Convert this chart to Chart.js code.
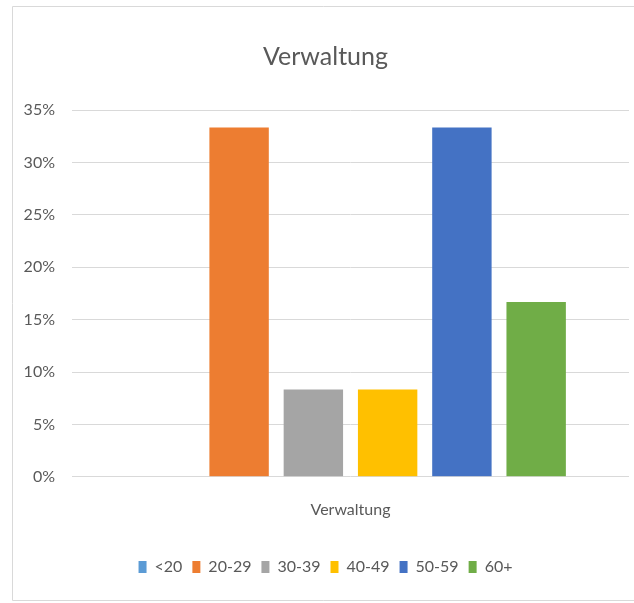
<!DOCTYPE html>
<html>
<head>
<meta charset="utf-8">
<title>Verwaltung</title>
<script src="https://cdn.jsdelivr.net/npm/chart.js@4/dist/chart.umd.min.js"></script>
<style>
  html, body { margin: 0; padding: 0; background: #fff; overflow: hidden; }
  #ageChart { position: absolute; left: 0; top: 0; }
</style>
</head>
<body>
<canvas id="ageChart" width="634" height="603"></canvas>
<script>
// Altersgruppen in der Verwaltung (Anteile in %)
const categories = ['Verwaltung'];
const groups = ['<20', '20-29', '30-39', '40-49', '50-59', '60+'];
const shares = [0, 33.33, 8.33, 8.33, 33.33, 16.67];
const colors = ['#5B9BD5', '#ED7D31', '#A5A5A5', '#FFC000', '#4472C4', '#70AD47'];
const yTicks = [0, 5, 10, 15, 20, 25, 30, 35];

const textColor = '#595959';
const fontFamily = 'Lato, "Open Sans", sans-serif';

// thin grey frame around the chart (top, left, bottom)
const framePlugin = {
  id: 'frame',
  beforeDraw(chart) {
    const c = chart.ctx;
    c.save();
    c.strokeStyle = '#d9d9d9';
    c.lineWidth = 1;
    c.beginPath();
    c.moveTo(chart.width, 6.5);
    c.lineTo(12.5, 6.5);
    c.lineTo(12.5, 600.5);
    c.lineTo(chart.width, 600.5);
    c.stroke();
    c.restore();
  }
};

const ctx = document.getElementById('ageChart');

new Chart(ctx, {
  type: 'bar',
  data: {
    labels: categories,
    datasets: groups.map((g, i) => ({
      label: g,
      data: [shares[i]],
      backgroundColor: colors[i],
      categoryPercentage: 0.8,
      barPercentage: 0.8
    }))
  },
  plugins: [framePlugin],
  options: {
    responsive: false,
    animation: false,
    layout: {
      padding: { top: 20, left: 22, right: 5, bottom: 18 }
    },
    plugins: {
      title: {
        display: true,
        text: 'Verwaltung',
        color: textColor,
        font: { family: fontFamily, size: 25, weight: 'normal' },
        padding: { top: 22, bottom: 38 }
      },
      legend: {
        position: 'bottom',
        labels: {
          color: textColor,
          boxWidth: 8,
          boxHeight: 12,
          padding: 10,
          font: { family: fontFamily, size: 16 }
        }
      },
      tooltip: { enabled: false }
    },
    scales: {
      x: {
        grid: { display: false },
        border: { display: false },
        afterFit: (axis) => { axis.height += 15; },
        ticks: {
          color: textColor,
          padding: 15,
          font: { family: fontFamily, size: 16 }
        }
      },
      y: {
        min: 0,
        max: 35,
        afterBuildTicks: (axis) => {
          axis.ticks = yTicks.map(v => ({ value: v }));
        },
        afterFit: (axis) => { axis.width = 50; },
        grid: { color: '#d9d9d9', drawTicks: false },
        border: { display: false },
        ticks: {
          color: textColor,
          padding: 17,
          font: { family: fontFamily, size: 16 },
          callback: (value) => `${value}%`
        }
      }
    }
  }
});
</script>
</body>
</html>
